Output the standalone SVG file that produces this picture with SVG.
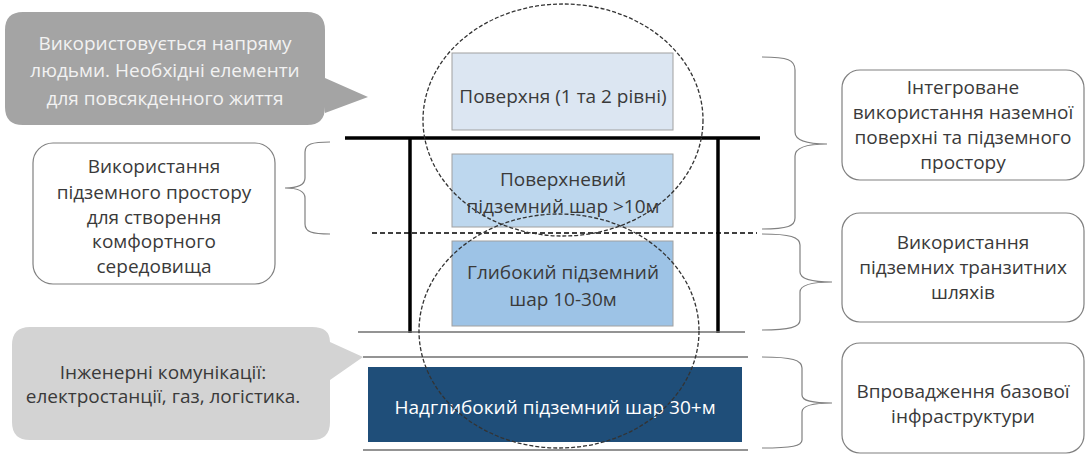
<svg xmlns="http://www.w3.org/2000/svg" width="1086" height="455" viewBox="0 0 1086 455">
<style>
text{font-family:"Open Sans","Liberation Sans",sans-serif;font-size:19px;text-anchor:middle;fill:#3a3a3a}
.wt{fill:#f2f2f2}
.wb{fill:#ffffff}
.box{fill:#ffffff;stroke:#808080;stroke-width:1.2}
.brace{fill:none;stroke:#808080;stroke-width:1.2}
.thin{stroke:#707070;stroke-width:1.5}
.thick{stroke:#000;stroke-width:3.5}
.circ{fill:none;stroke:#333;stroke-width:1.3;stroke-dasharray:4 2}
.layer{stroke:#a0a0a0;stroke-width:1}
</style>
<rect width="1086" height="455" fill="#fff"/>

<g id="callout-top">
<path d="M23,12 H307 Q325,12 325,30 V78 L368,97 L325,113 V107 Q325,125 307,125 H23 Q5,125 5,107 V30 Q5,12 23,12 Z" fill="#a4a4a4"/>
<text class="wt" x="165" y="50">Використовується напряму</text>
<text class="wt" x="165" y="77">людьми. Необхідні елементи</text>
<text class="wt" x="165" y="105">для повсякденного життя</text>
</g>

<g id="box-left">
<rect class="box" x="33" y="143" width="242" height="141" rx="20"/>
<text x="154" y="173">Використання</text>
<text x="154" y="199">підземного простору</text>
<text x="154" y="224">для створення</text>
<text x="154" y="248">комфортного</text>
<text x="154" y="273">середовища</text>
</g>

<g id="callout-bottom">
<path d="M30,327 H312 Q330,327 330,342 L363,357 L330,380 V422 Q330,440 312,440 H30 Q12,440 12,422 V345 Q12,327 30,327 Z" fill="#d3d3d3"/>
<text x="163" y="379">Інженерні комунікації:</text>
<text x="163" y="403">електростанції, газ, логістика.</text>
</g>

<g id="layer-surface">
<rect class="layer" x="452" y="53" width="221" height="77" fill="#dce6f2"/>
<text x="563" y="103">Поверхня (1 та 2 рівні)</text>
</g>
<g id="layer-shallow">
<rect class="layer" x="452" y="154" width="221" height="73" fill="#bdd7ee"/>
<text x="563" y="186">Поверхневий</text>
<text x="563" y="213">підземний шар &gt;10м</text>
</g>
<g id="layer-deep">
<rect class="layer" x="452" y="241" width="221" height="85" fill="#9dc3e6"/>
<text x="563" y="279">Глибокий підземний</text>
<text x="563" y="306">шар 10-30м</text>
</g>
<g id="layer-verydeep">
<rect x="368" y="367" width="374" height="75" fill="#1f4e79"/>
<text class="wb" x="555" y="414">Надглибокий підземний шар 30+м</text>
</g>

<g id="structure">
<line class="thick" x1="345" y1="138" x2="760" y2="138"/>
<line class="thick" x1="410" y1="138" x2="410" y2="333"/>
<line class="thick" x1="718" y1="138" x2="718" y2="333"/>
<line x1="372" y1="233" x2="757" y2="233" stroke="#000" stroke-width="1.3" stroke-dasharray="5 3"/>
<line class="thin" x1="358" y1="332" x2="745" y2="332"/>
<line class="thin" x1="363" y1="357" x2="748" y2="357"/>
<line class="thin" x1="363" y1="450" x2="748" y2="450"/>
</g>

<g id="circles">
<ellipse class="circ" cx="563" cy="120" rx="140" ry="116"/>
<ellipse class="circ" cx="559" cy="331" rx="140" ry="117"/>
</g>

<g id="connectors">
<path class="brace" d="M330,142 C312,142 305,144 305,152 L305,178 C305,185 298,188 285,188 C298,188 305,191 305,198 L305,224 C305,232 312,234 330,234"/>
<path class="brace" d="M762,57 C788,57 795,60 795,70 L795,132 C795,140 805,144 827,144 C805,144 795,148 795,156 L795,218 C795,226 788,229 762,229"/>
<path class="brace" d="M762,234 C790,234 800,237 800,245 L800,272 C800,279 810,282 832,282 C810,282 800,285 800,292 L800,320 C800,327 790,330 762,330"/>
<path class="brace" d="M762,357 C792,357 802,360 802,368 L802,395 C802,401 812,403 832,403 C812,403 802,406 802,412 L802,440 C802,446 792,448 762,448"/>
</g>

<g id="box-right-1">
<rect class="box" x="842" y="70" width="242" height="110" rx="18"/>
<text x="963" y="94">Інтегроване</text>
<text x="963" y="119">використання наземної</text>
<text x="963" y="144">поверхні та підземного</text>
<text x="963" y="169">простору</text>
</g>
<g id="box-right-2">
<rect class="box" x="842" y="213" width="242" height="109" rx="18"/>
<text x="963" y="249">Використання</text>
<text x="963" y="274">підземних транзитних</text>
<text x="963" y="299">шляхів</text>
</g>
<g id="box-right-3">
<rect class="box" x="842" y="343" width="242" height="110" rx="18"/>
<text x="963" y="398">Впровадження базової</text>
<text x="963" y="423">інфраструктури</text>
</g>
</svg>
